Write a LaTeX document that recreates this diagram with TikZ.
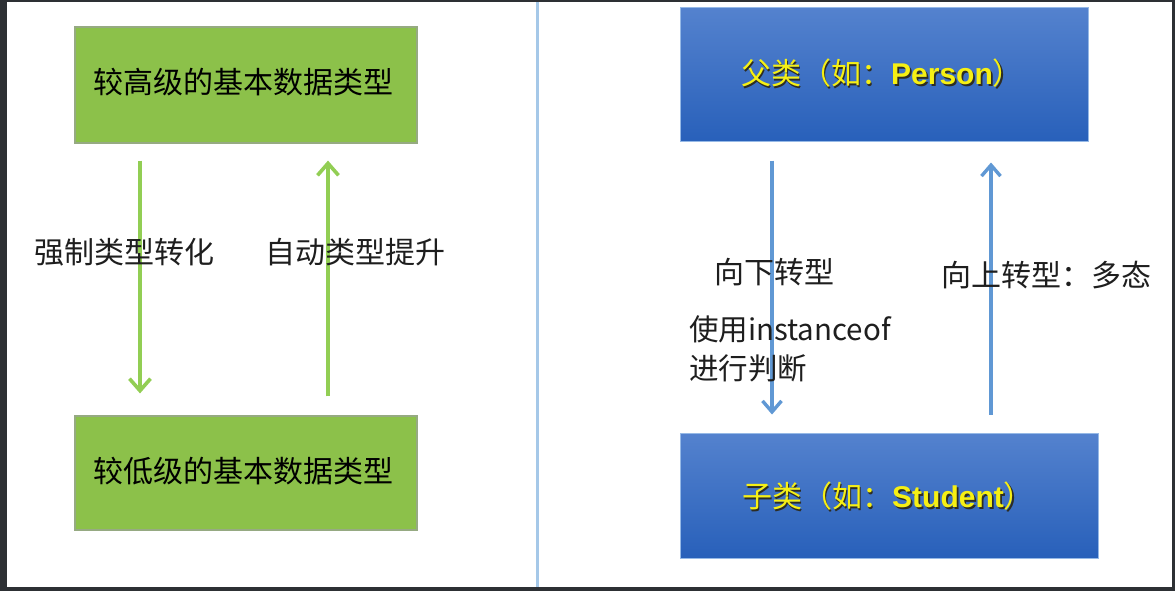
\documentclass[tikz,border=0pt]{standalone}
\usepackage{fontspec}
\newfontfamily\cjk{Noto Sans CJK SC}
\newfontfamily\arl{Liberation Sans}
\usetikzlibrary{arrows.meta,calc}
\definecolor{frame}{HTML}{2D3034}
\definecolor{gfill}{RGB}{140,193,74}
\definecolor{gline}{RGB}{150,170,130}
\definecolor{garrow}{RGB}{146,206,84}
\definecolor{btop}{RGB}{84,130,206}
\definecolor{bbot}{RGB}{40,96,186}
\definecolor{bline}{RGB}{150,185,230}
\definecolor{barrow}{RGB}{96,152,212}
\definecolor{divline}{RGB}{165,200,232}
\definecolor{ytext}{RGB}{246,240,20}
\definecolor{yshadow}{RGB}{45,45,35}
\definecolor{lbl}{RGB}{30,30,30}
\tikzset{
  greenbox/.style={draw=gline, line width=1.2pt, fill=gfill, inner sep=0pt},
  bluebox/.style={draw=bline, line width=1pt, top color=btop, bottom color=bbot, inner sep=0pt},
  gtext/.style={font=\cjk\fontsize{30}{36}\selectfont, text=black, inner sep=0pt},
  ytxt/.style={font=\cjk\fontsize{30}{34}\selectfont, text=ytext, inner sep=0pt},
  yshd/.style={font=\cjk\fontsize{30}{34}\selectfont, text=yshadow, inner sep=0pt},
  lbltext/.style={font=\cjk\fontsize{30}{36}\selectfont, text=lbl, inner sep=0pt, anchor=west},
  garr/.style={draw=garrow, line width=4pt, -{Straight Barb[length=12pt,width=21pt,line width=3.6pt]}},
  barr/.style={draw=barrow, line width=3.8pt, -{Straight Barb[length=11pt,width=19pt,line width=3.4pt]}},
}
\begin{document}
\begin{tikzpicture}[x=1pt,y=-1pt]
\fill[frame] (0,0) rectangle (1175,591);
\fill[white] (7,2) rectangle (1172,587);
\useasboundingbox (0,0) rectangle (1175,591);
% divider
\draw[divline, line width=3pt] (537,2) -- (537,587);
% green boxes
\node[greenbox, minimum width=342pt, minimum height=116pt] (hi) at (246,85) {};
\node[gtext] (hit) at (243,82) {较高级的基本数据类型};
\node[greenbox, minimum width=342pt, minimum height=114pt] (lo) at (246,473) {};
\node[gtext] (lot) at (243,471) {较低级的基本数据类型};
% green arrows
\draw[garr] ([xshift=-106pt,yshift=-17pt]hi.south) -- ([xshift=-106pt,yshift=22pt]lo.north);
\draw[garr] ([xshift=82pt,yshift=19pt]lo.north) -- ([xshift=82pt,yshift=-17pt]hi.south);
\node[lbltext] (l1) at (34,252) {强制类型转化};
\node[lbltext] (l2) at (265,252) {自动类型提升};
% blue boxes
\node[bluebox, minimum width=408pt, minimum height=134pt] (par) at (884,75) {};
\node[yshd] (pars) at (883.8,74.8) {父类（如：{\arl\bfseries Person}）};
\node[ytxt] (part) at (882,73) {父类（如：{\arl\bfseries Person}）};
\node[bluebox, minimum width=418pt, minimum height=125pt] (chd) at (889,495.5) {};
\node[yshd] (chds) at (889.8,497.8) {子类（如：{\arl\bfseries Student}）};
\node[ytxt] (chdt) at (888,496) {子类（如：{\arl\bfseries Student}）};
% blue arrows
\draw[barr] ([xshift=-112pt,yshift=-18pt]par.south) -- ([xshift=-117pt,yshift=18pt]chd.north);
\draw[barr] ([xshift=102pt,yshift=18pt]chd.north) -- ([xshift=107pt,yshift=-20pt]par.south);
\node[lbltext] (l3) at (714,272) {向下转型};
\node[lbltext, align=left, anchor=north west, font=\cjk\fontsize{29.5}{39}\selectfont] (l4) at (689,315) {使用instanceof\\进行判断};
\node[lbltext] (l5) at (941,275) {向上转型：多态};
\end{tikzpicture}
\end{document}
